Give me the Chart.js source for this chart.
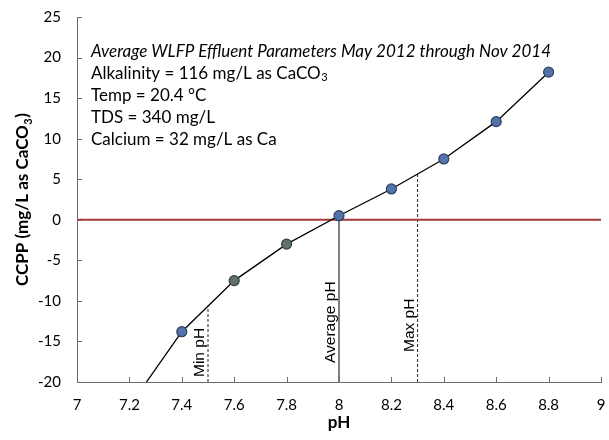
<!DOCTYPE html>
<html>
<head>
<meta charset="utf-8">
<script src="https://cdn.jsdelivr.net/npm/chart.js@4/dist/chart.umd.min.js"></script>
<style>
  html, body { margin: 0; padding: 0; background: #fff; }
  #wrap { width: 609px; height: 440px; }
</style>
</head>
<body>
<div id="wrap"><canvas id="c" width="609" height="440"></canvas></div>
<script>
// CCPP vs pH curve
const phValues   = [7.2, 7.4, 7.6, 7.8, 8.0, 8.2, 8.4, 8.6, 8.8];
const ccppValues = [-23.0, -13.8, -7.5, -3.0, 0.5, 3.8, 7.5, 12.1, 18.2];

// x-axis tick labels (pH 7.0 .. 9.0 in 0.2 steps)
const xTickLabels = ['7', '7.2', '7.4', '7.6', '7.8', '8', '8.2', '8.4', '8.6', '8.8', '9'];

// Reference pH markers: [pH, CCPP where the marker meets the curve]
const minPh = [7.5, -10.6];
const avgPh = [8.0, 0.5];
const maxPh = [8.3, 5.7];

// Info box lines
const infoTitle = 'Average WLFP Effluent Parameters May 2012 through Nov 2014';
const infoLines = ['Alkalinity = 116 mg/L as CaCO|3', 'Temp = 20.4 °C', 'TDS = 340 mg/L', 'Calcium = 32 mg/L as Ca'];

const FONT = 'Lato, "Open Sans", sans-serif';
const ARIAL = '"Liberation Sans", Arial, sans-serif';

const curvePoints = phValues.map((x, i) => ({ x, y: ccppValues[i] }));
const pointFill = phValues.map(x => (x === 7.6 || x === 7.8) ? '#5f706d' : '#5373ab');
const pointBorder = phValues.map(x => (x === 7.6 || x === 7.8) ? '#34403e' : '#2f3f5f');
const pointRadius = ccppValues.map(v => v < -20 ? 0 : 5);

function vline(v) { return [{ x: v[0], y: -20 }, { x: v[0], y: v[1] }]; }

// draws a string with "|" marking a subscript part
function drawSub(ctx, text, x, y, size, weight, style) {
  const parts = text.split('|');
  ctx.font = `${style} ${weight} ${size}px ${FONT}`;
  ctx.fillText(parts[0], x, y);
  if (parts.length > 1) {
    const w = ctx.measureText(parts[0]).width;
    ctx.font = `${style} ${weight} ${Math.round(size * 0.65)}px ${FONT}`;
    ctx.fillText(parts[1], x + w + 0.5, y + size * 0.22);
  }
}

// keep label overflow from shrinking the plot area
function noOverflow(s) {
  s.paddingLeft = 0; s.paddingRight = 0; s.paddingTop = 0; s.paddingBottom = 0;
}

const decorations = {
  id: 'decorations',
  afterDraw(chart) {
    const ctx = chart.ctx;
    const xs = chart.scales.x, ys = chart.scales.y;
    const area = chart.chartArea;
    ctx.save();

    // inside tick marks
    ctx.strokeStyle = '#6b6b6b';
    ctx.lineWidth = 1;
    ctx.beginPath();
    xs.ticks.forEach(t => {
      const px = Math.round(xs.getPixelForValue(t.value)) + 0.5;
      ctx.moveTo(px, area.bottom);
      ctx.lineTo(px, area.bottom - 5);
    });
    ys.ticks.forEach(t => {
      const py = Math.round(ys.getPixelForValue(t.value)) + 0.5;
      ctx.moveTo(area.left, py);
      ctx.lineTo(area.left + 5, py);
    });
    ctx.stroke();

    // info box
    ctx.fillStyle = '#000';
    ctx.textAlign = 'left';
    ctx.textBaseline = 'middle';
    ctx.font = `italic 400 17px ${FONT}`;
    ctx.fillText(infoTitle, 91, 52);
    infoLines.forEach((l, i) => drawSub(ctx, l, 91, 74 + i * 22, 17, 400, 'normal'));

    // rotated labels next to the reference lines
    ctx.font = `400 15.5px ${ARIAL}`;
    ctx.textAlign = 'left';
    ctx.textBaseline = 'alphabetic';
    const rot = (txt, xv, bottomY) => {
      ctx.save();
      ctx.translate(xs.getPixelForValue(xv) - 4, bottomY);
      ctx.rotate(-Math.PI / 2);
      ctx.fillText(txt, 0, 0);
      ctx.restore();
    };
    rot('Min pH', minPh[0], 377);
    rot('Average pH', avgPh[0], 363);
    rot('Max pH', maxPh[0], 352);

    // axis titles
    ctx.textAlign = 'center';
    ctx.textBaseline = 'middle';
    ctx.font = `700 17px ${FONT}`;
    ctx.fillText('pH', (area.left + area.right) / 2, 423);

    ctx.save();
    ctx.translate(23, (area.top + area.bottom) / 2);
    ctx.rotate(-Math.PI / 2);
    ctx.textAlign = 'left';
    const main = 'CCPP (mg/L as CaCO';
    ctx.font = `700 17px ${FONT}`;
    const w1 = ctx.measureText(main).width;
    ctx.font = `700 11px ${FONT}`;
    const w2 = ctx.measureText('3').width;
    ctx.font = `700 17px ${FONT}`;
    const w3 = ctx.measureText(')').width;
    const x0 = -(w1 + w2 + w3 + 1) / 2;
    ctx.fillText(main, x0, 0);
    ctx.font = `700 11px ${FONT}`;
    ctx.fillText('3', x0 + w1 + 0.5, 5);
    ctx.font = `700 17px ${FONT}`;
    ctx.fillText(')', x0 + w1 + w2 + 1, 0);
    ctx.restore();

    ctx.restore();
  }
};

new Chart(document.getElementById('c'), {
  type: 'scatter',
  data: {
    datasets: [
      {
        label: 'CCPP',
        data: curvePoints,
        showLine: true,
        borderColor: '#000',
        borderWidth: 1.3,
        tension: 0,
        pointRadius: pointRadius,
        pointBackgroundColor: pointFill,
        pointBorderColor: pointBorder,
        pointBorderWidth: 1.2,
        order: 0
      },
      {
        label: 'zero',
        data: [{ x: 7, y: 0 }, { x: 9, y: 0 }],
        showLine: true,
        borderColor: '#a8393b',
        borderWidth: 2,
        pointRadius: 0,
        order: 1
      },
      {
        label: 'Average pH',
        data: vline(avgPh),
        showLine: true,
        borderColor: '#000',
        borderWidth: 1,
        pointRadius: 0,
        order: 2
      },
      {
        label: 'Min pH',
        data: vline(minPh),
        showLine: true,
        borderColor: '#222',
        borderWidth: 1,
        borderDash: [3, 2],
        pointRadius: 0,
        order: 2
      },
      {
        label: 'Max pH',
        data: vline(maxPh),
        showLine: true,
        borderColor: '#222',
        borderWidth: 1,
        borderDash: [3, 2],
        pointRadius: 0,
        order: 2
      }
    ]
  },
  options: {
    responsive: false,
    animation: false,
    events: [],
    layout: { padding: { left: 0, right: 8, top: 17, bottom: 0 } },
    plugins: { legend: { display: false }, tooltip: { enabled: false } },
    scales: {
      x: {
        type: 'linear',
        min: 7, max: 9,
        ticks: {
          stepSize: 0.2,
          padding: 14,
          color: '#000',
          font: { family: FONT, size: 15 },
          maxRotation: 0,
          autoSkip: false,
          callback: (v, i) => xTickLabels[i]
        },
        grid: { display: false, drawTicks: false },
        border: { display: true, color: '#6b6b6b', width: 1 },
        afterFit: s => { s.height = 58; noOverflow(s); }
      },
      y: {
        min: -20, max: 25,
        ticks: {
          stepSize: 5,
          padding: 16,
          color: '#000',
          font: { family: FONT, size: 15 }
        },
        grid: { display: false, drawTicks: false },
        border: { display: true, color: '#6b6b6b', width: 1 },
        afterFit: s => { s.width = 77; noOverflow(s); }
      }
    }
  },
  plugins: [decorations]
});
</script>
</body>
</html>
